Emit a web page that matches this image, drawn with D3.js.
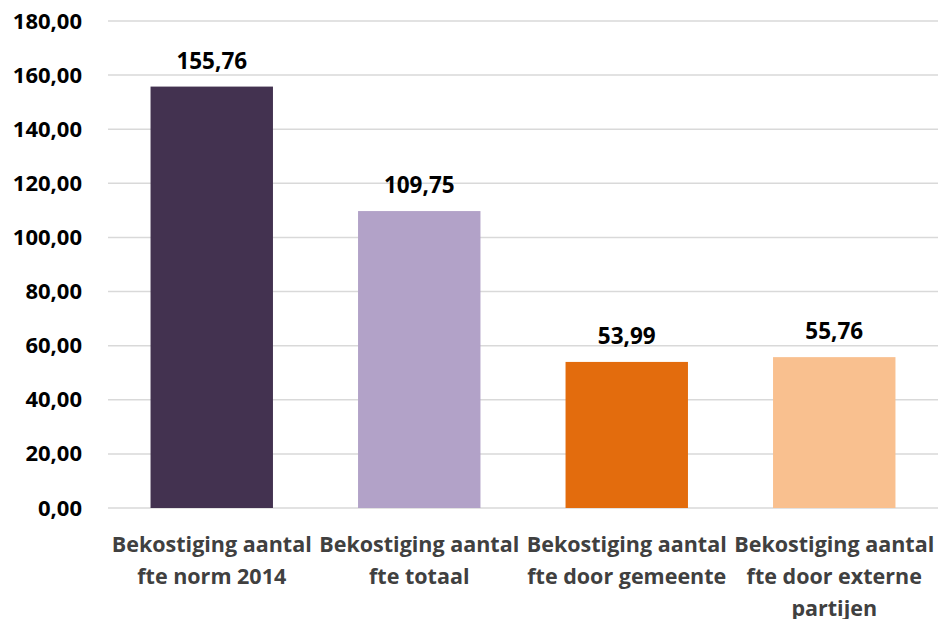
<!DOCTYPE html>
<html><head><meta charset="utf-8">
<script src="https://cdn.jsdelivr.net/npm/d3@7"></script>
<style>body{margin:0;background:#fff}svg{display:block}</style>
</head><body>
<svg id="chart" width="939" height="619"></svg>
<script>
const categories = [
  ["Bekostiging aantal", "fte norm 2014"],
  ["Bekostiging aantal", "fte totaal"],
  ["Bekostiging aantal", "fte door gemeente"],
  ["Bekostiging aantal", "fte door externe", "partijen"]
];
const values = [155.76, 109.75, 53.99, 55.76];
const colors = ["#433250", "#b2a2c8", "#e36c0d", "#f9c08f"];
const yTicks = [0, 20, 40, 60, 80, 100, 120, 140, 160, 180];

const svg = d3.select("#chart");
const m = {left: 108, right: 1, top: 21, bottom: 111};
const W = 939, H = 619;
const fmt = v => v.toFixed(2).replace(".", ",");
const font = "'Open Sans', sans-serif";

const x = d3.scaleBand().domain(d3.range(values.length)).range([m.left, W - m.right]).paddingInner(0.41).paddingOuter(0.205);
const y = d3.scaleLinear().domain([0, 180]).range([H - m.bottom, m.top]);

// gridlines
svg.append("g").selectAll("line").data(yTicks).join("line")
  .attr("x1", m.left).attr("x2", W - m.right)
  .attr("y1", d => y(d)).attr("y2", d => y(d))
  .attr("stroke", "#d9d9d9").attr("stroke-width", 1.5);

// y axis labels
const yAxis = d3.axisLeft(y).tickValues(yTicks).tickFormat(fmt).tickSize(0).tickPadding(26);
const ya = svg.append("g").attr("transform", `translate(${m.left},0)`).call(yAxis);
ya.select(".domain").remove();
ya.selectAll("text").attr("font-family", font).attr("font-weight", 700).attr("font-size", 22).attr("fill", "#000");

// bars
svg.append("g").selectAll("rect").data(values).join("rect")
  .attr("x", (d, i) => x(i)).attr("width", x.bandwidth())
  .attr("y", d => y(d)).attr("height", d => y(0) - y(d))
  .attr("fill", (d, i) => colors[i]);

// value labels
svg.append("g").selectAll("text").data(values).join("text")
  .attr("x", (d, i) => x(i) + x.bandwidth() / 2)
  .attr("y", d => y(d) - 18)
  .attr("text-anchor", "middle")
  .attr("font-family", font).attr("font-weight", 700).attr("font-size", 22.5).attr("fill", "#000")
  .text(fmt);

// category labels
const cat = svg.append("g").selectAll("text").data(categories).join("text")
  .attr("x", (d, i) => x(i) + x.bandwidth() / 2)
  .attr("y", H - m.bottom + 44)
  .attr("text-anchor", "middle")
  .attr("font-family", font).attr("font-weight", 700).attr("font-size", 21.5).attr("fill", "#404040");
cat.each(function(lines, i) {
  d3.select(this).selectAll("tspan").data(lines).join("tspan")
    .attr("x", x(i) + x.bandwidth() / 2)
    .attr("dy", (l, j) => j === 0 ? 0 : 32)
    .text(l => l);
});
</script>
</body></html>
